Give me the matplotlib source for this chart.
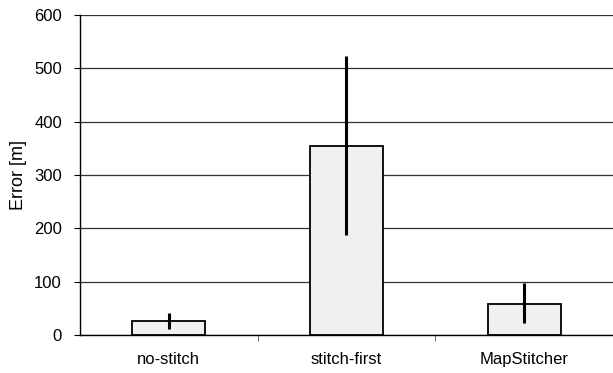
import matplotlib.pyplot as plt
import numpy as np

plt.rcParams['font.family'] = ['Liberation Sans', 'DejaVu Sans']

methods = ['no-stitch', 'stitch-first', 'MapStitcher']
error = [26, 354, 59]
err_low = [10.5, 187, 22]
err_high = [40.5, 523, 97]

x = np.arange(len(methods))
yerr = [np.array(error) - np.array(err_low), np.array(err_high) - np.array(error)]

fig = plt.figure(figsize=(6.13, 3.73), dpi=100)
ax = fig.add_axes([0.1305, 0.1019, 0.8695, 0.8579])

ax.bar(x, error, width=0.41, color='#f0f0f0', edgecolor='black', linewidth=1.3, zorder=2)
ax.errorbar(x, error, yerr=yerr, fmt='none', ecolor='black', elinewidth=2.2, capsize=0, zorder=3)

ax.set_ylim(0, 600)
ax.set_xlim(-0.5, 2.5)
ax.set_yticks(range(0, 601, 100))
ax.yaxis.grid(True, color='#333333', linewidth=0.9)
ax.set_axisbelow(True)

ax.set_xticks(x)
ax.set_xticklabels(methods, fontsize=12)
ax.set_xticks([0.5, 1.5], minor=True)
ax.tick_params(axis='x', which='major', length=0, pad=12)
ax.tick_params(axis='x', which='minor', length=4, color='#555555')
ax.tick_params(axis='y', length=4, labelsize=12, pad=9)
ax.set_ylabel('Error [m]', fontsize=13, labelpad=5)

for side in ['top', 'right']:
    ax.spines[side].set_visible(False)
ax.spines['left'].set_linewidth(1)
ax.spines['bottom'].set_linewidth(1)

fig.savefig('out.png', dpi=100)
